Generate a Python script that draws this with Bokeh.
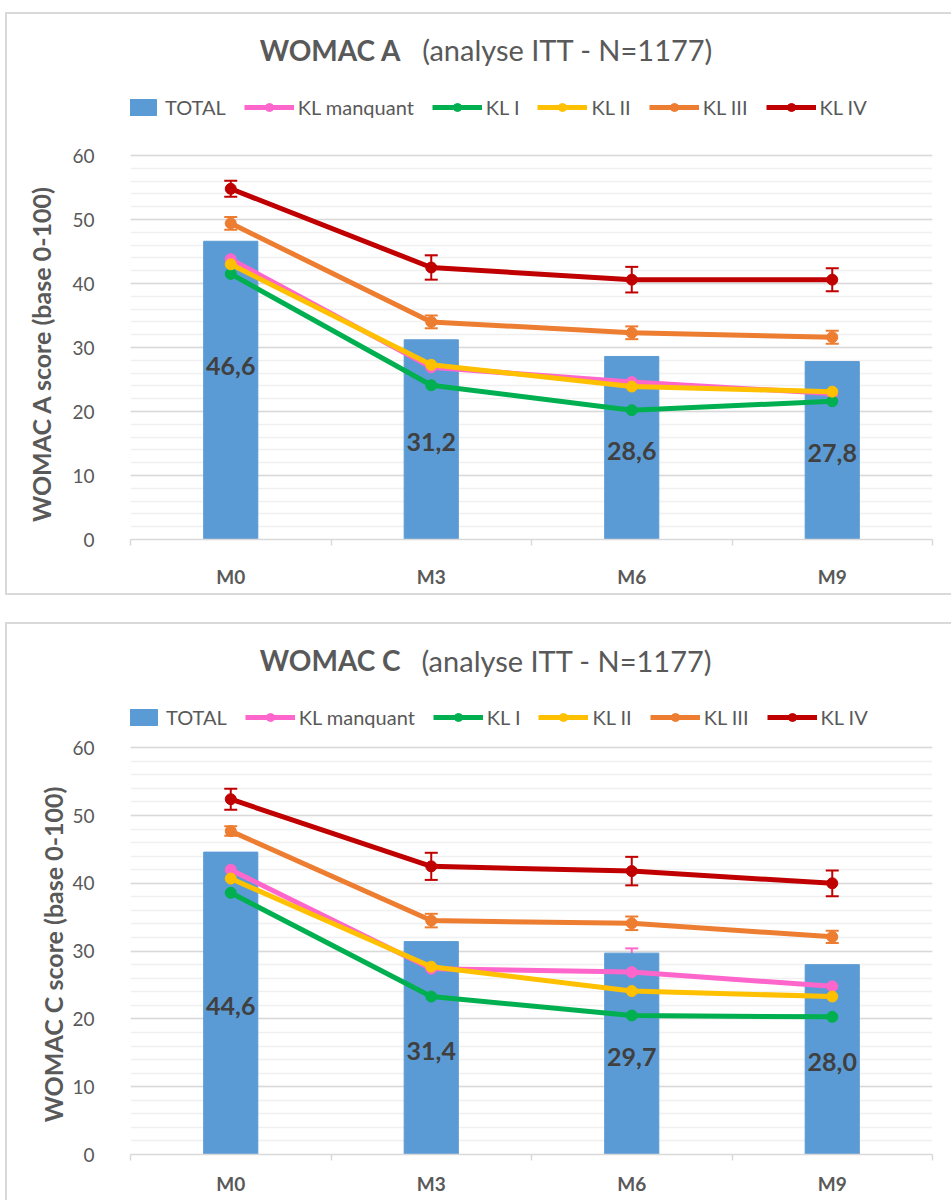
import math
from bokeh.plotting import figure
from bokeh.models import (ColumnDataSource, FixedTicker, Whisker, TeeHead, Label,
                          Legend, LegendItem, Range1d)
from bokeh.layouts import column
from bokeh.core.properties import value
from bokeh.embed import file_html
from bokeh.resources import INLINE

# ---------------- data ----------------
months = ["M0", "M3", "M6", "M9"]
series_names = ["KL manquant", "KL I", "KL II", "KL III", "KL IV"]

# WOMAC A
a_total = [46.6, 31.2, 28.6, 27.8]
a_kl_manquant = [43.8, 26.9, 24.6, 22.8]
a_kl_manquant_err = [2.3, 2.8, 3.5, 2.4]
a_kl1 = [41.5, 24.1, 20.2, 21.6]
a_kl1_err = [1.5, 1.7, 1.9, 1.8]
a_kl2 = [43.0, 27.3, 23.9, 23.1]
a_kl2_err = [1.0, 1.0, 1.1, 0.9]
a_kl3 = [49.4, 34.0, 32.3, 31.6]
a_kl3_err = [1.0, 1.0, 1.0, 1.0]
a_kl4 = [54.8, 42.5, 40.6, 40.6]
a_kl4_err = [1.25, 1.9, 2.0, 1.8]

# WOMAC C
c_total = [44.6, 31.4, 29.7, 28.0]
c_kl_manquant = [42.0, 27.4, 26.9, 24.8]
c_kl_manquant_err = [2.2, 2.5, 3.5, 2.6]
c_kl1 = [38.6, 23.3, 20.5, 20.3]
c_kl1_err = [1.4, 1.5, 1.8, 1.5]
c_kl2 = [40.7, 27.7, 24.1, 23.3]
c_kl2_err = [1.0, 0.9, 1.0, 0.8]
c_kl3 = [47.7, 34.5, 34.1, 32.1]
c_kl3_err = [0.7, 1.0, 1.0, 0.9]
c_kl4 = [52.4, 42.5, 41.8, 40.0]
c_kl4_err = [1.55, 2.0, 2.1, 1.9]

y_ticks = [0, 10, 20, 30, 40, 50, 60]
y_minor = list(range(0, 61, 2))

# ---------------- style ----------------
BAR_COLOR = "#5B9BD5"
SERIES_COLORS = ["#FF66CC", "#00B050", "#FFC000", "#ED7D31", "#C00000"]
TXT = "#595959"
FONT = "Lato"


def build_chart(title_bold, title_rest, ylabel, total, series, errs, geo):
    x = list(range(len(months)))
    p = figure(width=geo["width"], height=geo["height"], output_backend="svg",
               toolbar_location=None, x_range=Range1d(-0.5, 3.5),
               y_range=Range1d(0, geo["ymax"]),
               min_border_left=geo["bl"], min_border_right=geo["br"],
               min_border_top=geo["bt"], min_border_bottom=geo["bb"])
    p.outline_line_color = None
    p.background_fill_color = "white"
    p.border_fill_color = "white"
    p.styles = {"border-top": "2px solid #d9d9d9", "border-left": "2px solid #d9d9d9",
                "border-bottom": geo["bottom_border"]}

    # axes
    xa = p.xaxis[0]
    xa.ticker = FixedTicker(ticks=x, minor_ticks=[-0.5, 0.5, 1.5, 2.5, 3.5])
    xa.major_label_overrides = {i: m for i, m in enumerate(months)}
    xa.major_label_text_font = FONT
    xa.major_label_text_font_style = "bold"
    xa.major_label_text_font_size = "19px"
    xa.major_label_text_color = TXT
    xa.major_label_standoff = geo["xstand"]
    xa.major_tick_line_color = None
    xa.minor_tick_line_color = "#d9d9d9"
    xa.minor_tick_line_width = 1.5
    xa.minor_tick_out = 6
    xa.minor_tick_in = 0
    xa.axis_line_color = "#d9d9d9"
    xa.axis_line_width = 1.5

    ya = p.yaxis[0]
    ya.ticker = FixedTicker(ticks=y_ticks, minor_ticks=y_minor)
    ya.axis_line_color = None
    ya.major_tick_line_color = None
    ya.minor_tick_line_color = None
    ya.major_label_text_font = FONT
    ya.major_label_text_font_size = "19px"
    ya.major_label_text_color = TXT
    ya.major_label_standoff = 30

    p.xgrid.grid_line_color = None
    p.ygrid.grid_line_color = "#d9d9d9"
    p.ygrid.grid_line_width = 1.5
    p.ygrid.minor_grid_line_color = "#f0f0f0"
    p.ygrid.minor_grid_line_width = 1.5

    # bars
    bsrc = ColumnDataSource(dict(x=x, top=total,
                                 ly=[t / 2 - 0.4 + s for t, s in zip(total, geo["label_shift"])],
                                 txt=[f"{t:.1f}".replace(".", ",") for t in total]))
    bar = p.vbar(x="x", top="top", width=0.27, source=bsrc, fill_color=BAR_COLOR,
                 line_color=BAR_COLOR)
    items = [LegendItem(label="TOTAL", renderers=[bar])]

    # series
    for name, vals, err, col in zip(series_names, series, errs, SERIES_COLORS):
        src = ColumnDataSource(dict(x=x, y=vals,
                                    up=[v + e for v, e in zip(vals, err)],
                                    lo=[v - e for v, e in zip(vals, err)]))
        ln = p.line("x", "y", source=src, line_color=col, line_width=5)
        sc = p.scatter("x", "y", source=src, size=11, fill_color=col, line_color=col)
        wk = Whisker(source=src, base="x", upper="up", lower="lo", dimension="height",
                     line_color=col, line_width=2,
                     upper_head=TeeHead(size=13, line_color=col, line_width=2),
                     lower_head=TeeHead(size=13, line_color=col, line_width=2))
        p.add_layout(wk)
        items.append(LegendItem(label=name, renderers=[ln, sc]))

    # bar value labels
    p.text("x", "ly", text="txt", source=bsrc, text_align="center", text_baseline="middle",
           text_font=value(FONT), text_font_style="bold", text_font_size="25px",
           text_color="#404040")

    leg = Legend(items=items, orientation="horizontal", location=geo["legend_loc"],
                 background_fill_alpha=0, border_line_color=None, padding=0, margin=0,
                 spacing=geo["leg_spacing"], glyph_width=50, glyph_height=20,
                 label_standoff=4, label_text_font=FONT, label_text_font_size="20px",
                 label_text_color=TXT)
    p.add_layout(leg, "center")

    # title (bold part + normal part)
    p.add_layout(Label(x=geo["tx"], y=geo["ty"], text=title_bold, text_align="right",
                       text_baseline="middle", text_font=FONT, text_font_style="bold",
                       text_font_size="28px", text_color=TXT))
    p.add_layout(Label(x=geo["tx2"], y=geo["ty"], text=title_rest, text_align="left",
                       text_baseline="middle", text_font=FONT, text_font_size="29px",
                       text_color=TXT))
    # y axis title, centred on the 0-60 value span (side panel => not clipped)
    p.add_layout(Label(x=geo["ylx"], y=29.5, text=ylabel, angle=math.pi / 2,
                       text_align="center", text_baseline="middle", text_font=FONT,
                       text_font_style="bold", text_font_size="25px", text_color=TXT),
                 "left")
    return p


geo_a = dict(width=946, height=583, bl=117, br=21, bt=5, bb=58, ymax=520 / 6.4,
             xstand=19, label_shift=[4.2, 0, 0, 0], legend_loc=(-19, 420),
             leg_spacing=18, tx=0.851, tx2=0.955, ty=76.5, ylx=-0.946,
             bottom_border="2px solid #d9d9d9")
geo_c = dict(width=946, height=578, bl=123, br=11, bt=5, bb=48, ymax=525 / 6.78,
             xstand=11, label_shift=[0, 0, 0, 0], legend_loc=(-18, 425),
             leg_spacing=18, tx=0.847, tx2=0.951, ty=72.9, ylx=-0.889,
             bottom_border="none")

pa = build_chart("WOMAC A", "(analyse ITT - N=1177)", "WOMAC A score (base  0-100)",
                 a_total, [a_kl_manquant, a_kl1, a_kl2, a_kl3, a_kl4],
                 [a_kl_manquant_err, a_kl1_err, a_kl2_err, a_kl3_err, a_kl4_err], geo_a)
pc = build_chart("WOMAC C", "(analyse ITT - N=1177)", "WOMAC C score (base 0-100)",
                 c_total, [c_kl_manquant, c_kl1, c_kl2, c_kl3, c_kl4],
                 [c_kl_manquant_err, c_kl1_err, c_kl2_err, c_kl3_err, c_kl4_err], geo_c)
pa.margin = (12, 0, 0, 5)
pc.margin = (27, 0, 0, 5)

layout = column(pa, pc, spacing=0)
open("out.html", "w").write(file_html(layout, INLINE))
